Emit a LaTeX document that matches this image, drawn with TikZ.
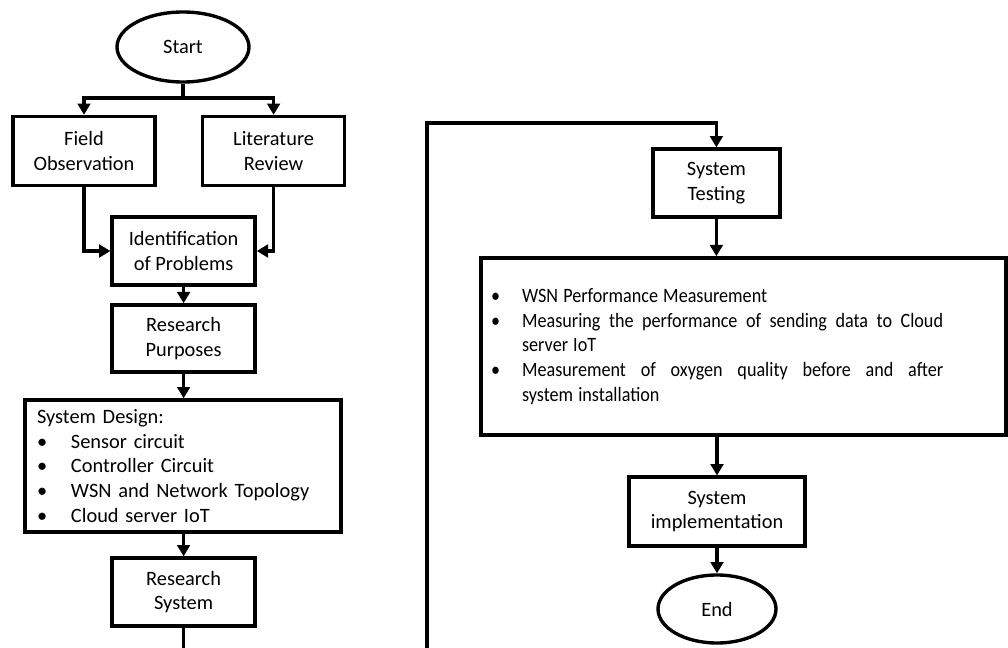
\documentclass[tikz,border=0pt]{standalone}
\usepackage{fontspec}
\setmainfont{Carlito}
\newfontfamily\narrowfont[FakeStretch=0.89]{Carlito}
\usetikzlibrary{arrows.meta,shapes.geometric}

\newcommand{\dsitem}[1]{\par\noindent\makebox[0.85cm][l]{\textbullet}#1}
\newcommand{\msitem}[1]{\par\hangindent=0.775cm\hangafter=1\noindent\makebox[0.775cm][l]{\textbullet}#1}

\begin{document}
\begin{tikzpicture}
[
	every node/.style={font=\fontsize{14.5}{17.6}\selectfont},
	bx/.style={rectangle,draw,line width=2.4pt,align=center,minimum height=1.7cm,minimum width=3.575cm},
	ov/.style={ellipse,draw,line width=2.4pt,minimum height=1.75cm,minimum width=3.3cm},
	ln/.style={line width=2.4pt},
	arr/.style={line width=2.4pt,-{Triangle[length=8pt,width=9pt]}}
]

\useasboundingbox (0,0) rectangle (25.2,-16.2);
\clip (0,0) rectangle (25.2,-16.2);

% left column
\node[ov] (start) at (4.575,-1.175) {Start};
\node[bx,minimum width=3.55cm,minimum height=1.725cm] (field) at (2.1,-3.775) {Field\\Observation};
\node[bx,minimum width=3.55cm,minimum height=1.725cm] (lit) at (6.84,-3.775) {Literature\\Review};
\node[bx] (ident) at (4.59,-6.275) {Identification\\of Problems};
\node[bx,minimum height=1.675cm] (purp) at (4.59,-8.46) {Research\\Purposes};
\node[bx,align=left,minimum width=7.9cm,minimum height=3.3cm,text width=7.3cm] (design) at (4.575,-11.65)
	{System Design:\dsitem{Sensor circuit}\dsitem{Controller Circuit}\dsitem{WSN and Network Topology}\dsitem{Cloud server IoT}};
\node[bx] (ressys) at (4.59,-14.8) {Research\\System};

% right column
\node[bx,minimum width=3.175cm] (testing) at (17.91,-4.575) {System\\Testing};
\node[bx,align=left,minimum width=13.125cm,minimum height=4.425cm,text width=12.625cm] (meas) at (18.59,-8.66)
	{\parbox{11.3cm}{\narrowfont\rightskip=0pt\parfillskip=0pt plus 1fil\spaceskip=.25em plus 1.5em minus .05em
	\msitem{WSN Performance Measurement}
	\msitem{Measuring the performance of sending data to Cloud\linebreak server IoT}
	\msitem{Measurement of oxygen quality before and after\linebreak system installation}}};
\node[bx,minimum width=4.4cm,minimum height=1.725cm] (impl) at (17.925,-12.79) {System\\implementation};
\node[ov,minimum width=2.95cm,minimum height=1.7cm] (end) at (17.925,-15.225) {End};

\coordinate (fork) at (4.575,-2.45);
\coordinate (cut1) at (4.59,-16.5);
\coordinate (cut2) at (10.675,-16.5);
\coordinate (turn) at (10.675,-3.075);

\draw[ln]	(start)		--	(fork);
\draw[arr]	(fork)		-|	(field);
\draw[arr]	(fork)		-|	(lit);
\draw[arr]	(field)		|-	(ident);
\draw[arr]	(lit)		|-	(ident);
\draw[arr]	(ident)		--	(purp);
\draw[arr]	(purp)		--	(design.north -| purp);
\draw[arr]	(design.south -| ressys)	--	(ressys);
\draw[ln]	(ressys)	--	(cut1);

\draw[arr]	(cut2)	--	(turn)	-|	(testing);
\draw[arr]	(testing)	--	(meas.north -| testing);
\draw[arr]	(meas.south -| impl)	--	(impl);
\draw[arr]	(impl)		--	(end);

\end{tikzpicture}
\end{document}
